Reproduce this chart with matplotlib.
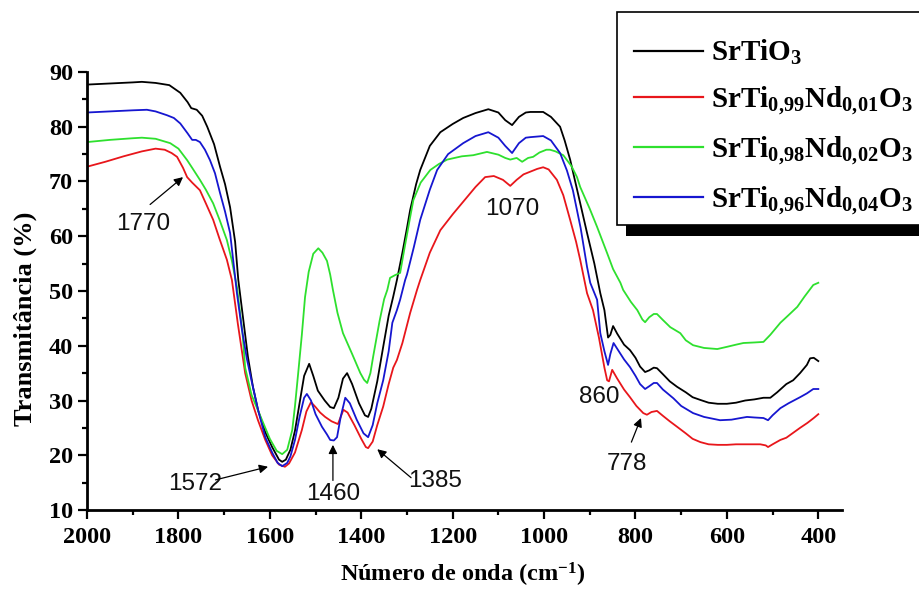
import matplotlib
matplotlib.use("Agg")
import matplotlib.pyplot as plt
from matplotlib.patches import Rectangle
import numpy as np

plt.rcParams['font.family'] = 'serif'
plt.rcParams['font.serif'] = ['Liberation Serif', 'DejaVu Serif']
plt.rcParams['font.weight'] = 'bold'
plt.rcParams['mathtext.fontset'] = 'custom'
plt.rcParams['mathtext.rm'] = 'Liberation Serif:bold'
plt.rcParams['mathtext.bf'] = 'Liberation Serif:bold'
plt.rcParams['mathtext.it'] = 'Liberation Serif:bold:italic'

# espectros (numero de onda, transmitancia)
wn_k = [2000, 1950, 1900, 1880, 1850, 1820, 1796, 1780, 1772, 1760, 1748, 1737, 1722, 1709,
        1698, 1687, 1676, 1669, 1660, 1648, 1637, 1626, 1610, 1595, 1580, 1573, 1565, 1555,
        1545, 1535, 1525, 1514, 1505, 1495, 1480, 1468, 1460, 1450, 1440, 1431, 1420, 1405,
        1392, 1385, 1378, 1365, 1352, 1340, 1330, 1322, 1310, 1300, 1293, 1280, 1271, 1250,
        1227, 1200, 1177, 1150, 1122, 1100, 1085, 1070, 1055, 1040, 1030, 1002, 985, 965,
        955, 943, 925, 906, 890, 877, 868, 860, 855, 849, 840, 825, 812, 800, 790, 779, 770,
        760, 753, 740, 725, 709, 690, 675, 658, 640, 620, 600, 580, 560, 540, 520, 505, 490,
        470, 455, 440, 425, 418, 410, 400]
t_k = [87.7, 87.9, 88.1, 88.2, 88.0, 87.6, 86.2, 84.5, 83.4, 83.1, 82.0, 80.0, 76.8, 72.7,
       69.5, 65.3, 59.0, 52.0, 46.0, 38.0, 32.5, 28.3, 24.2, 21.5, 19.2, 18.8, 19.2, 21.0,
       24.5, 29.5, 34.5, 36.7, 34.5, 31.8, 30.0, 28.8, 28.6, 30.5, 34.0, 35.0, 33.0, 29.5,
       27.3, 27.0, 28.5, 33.5, 39.8, 45.5, 49.0, 52.0, 57.0, 61.5, 64.8, 69.5, 72.1, 76.5,
       79.0, 80.5, 81.6, 82.5, 83.2, 82.6, 81.2, 80.3, 81.8, 82.6, 82.7, 82.7, 81.8, 80.0,
       77.5, 74.0, 67.5, 60.6, 55.0, 49.6, 46.5, 41.5, 42.0, 43.6, 42.2, 40.2, 39.2, 37.8,
       36.2, 35.2, 35.5, 36.0, 35.9, 34.8, 33.5, 32.5, 31.5, 30.6, 30.1, 29.6, 29.4, 29.4,
       29.6, 30.0, 30.2, 30.5, 30.5, 31.5, 33.0, 33.7, 35.0, 36.5, 37.7, 37.8, 37.2]

wn_r = [2000, 1960, 1920, 1880, 1850, 1830, 1815, 1803, 1790, 1781, 1770, 1753, 1740, 1724,
        1710, 1694, 1683, 1670, 1654, 1640, 1626, 1610, 1595, 1580, 1567, 1558, 1545, 1530,
        1520, 1510, 1500, 1490, 1479, 1465, 1451, 1445, 1439, 1430, 1415, 1400, 1390, 1385,
        1375, 1365, 1352, 1340, 1330, 1322, 1310, 1293, 1278, 1271, 1250, 1227, 1200, 1177,
        1150, 1129, 1110, 1090, 1074, 1060, 1045, 1030, 1015, 1002, 990, 972, 958, 943, 930,
        921, 906, 893, 880, 868, 862, 858, 851, 840, 825, 812, 798, 783, 775, 765, 753, 740,
        725, 709, 690, 675, 658, 640, 620, 600, 580, 560, 540, 527, 515, 510, 500, 483, 470,
        455, 440, 424, 410, 400]
t_r = [72.7, 73.6, 74.6, 75.5, 76.0, 75.8, 75.2, 74.5, 72.5, 70.8, 69.8, 68.4, 66.0, 63.0,
       59.5, 55.7, 52.0, 44.0, 35.0, 30.0, 26.4, 22.8, 20.0, 18.3, 17.9, 18.5, 20.5, 24.6,
       28.0, 29.7, 28.8, 27.8, 27.0, 26.2, 25.7, 27.0, 28.3, 27.8, 25.5, 23.0, 21.5, 21.3,
       22.5, 25.5, 28.9, 33.0, 36.0, 37.4, 40.5, 46.0, 50.2, 52.0, 57.0, 61.1, 64.0, 66.3,
       69.0, 70.8, 71.0, 70.3, 69.2, 70.3, 71.3, 71.8, 72.3, 72.6, 72.2, 70.3, 67.5, 63.0,
       59.0, 55.7, 49.6, 46.5, 41.5, 36.0, 33.7, 33.5, 35.6, 34.0, 32.0, 30.6, 29.0, 27.7,
       27.4, 27.9, 28.1, 27.2, 26.2, 25.2, 24.0, 23.0, 22.4, 22.0, 21.9, 21.9, 22.0, 22.0,
       22.0, 22.0, 21.8, 21.5, 22.0, 22.8, 23.2, 24.1, 25.0, 25.9, 26.8, 27.5]

wn_g = [2000, 1950, 1900, 1880, 1850, 1818, 1800, 1781, 1770, 1753, 1740, 1724, 1710, 1694,
        1683, 1672, 1660, 1654, 1640, 1617, 1600, 1585, 1573, 1562, 1551, 1545, 1538, 1530,
        1523, 1515, 1505, 1494, 1485, 1475, 1468, 1462, 1452, 1440, 1420, 1402, 1394, 1387,
        1380, 1374, 1360, 1350, 1343, 1337, 1326, 1315, 1305, 1293, 1286, 1270, 1249, 1230,
        1212, 1180, 1155, 1125, 1100, 1085, 1074, 1060, 1048, 1035, 1024, 1010, 995, 987, 975,
        958, 940, 928, 921, 900, 884, 862, 849, 833, 827, 810, 796, 785, 779, 770, 760, 753,
        740, 724, 702, 690, 674, 650, 621, 600, 580, 564, 540, 520, 505, 483, 465, 446, 430,
        411, 400]
t_g = [77.2, 77.6, 77.9, 78.0, 77.8, 77.0, 76.0, 73.9, 72.5, 70.3, 68.5, 66.0, 63.0, 59.3,
       55.5, 50.7, 42.5, 36.0, 31.0, 26.4, 23.0, 20.8, 20.2, 21.0, 24.6, 29.0, 35.0, 42.0,
       48.9, 53.5, 56.8, 57.8, 57.0, 55.5, 53.0, 50.2, 46.0, 42.3, 38.5, 35.0, 33.8, 33.2,
       35.0, 38.0, 44.5, 48.5, 50.2, 52.4, 52.9, 53.3, 58.0, 63.5, 66.6, 69.8, 72.1, 73.2,
       74.0, 74.6, 74.8, 75.4, 74.9, 74.3, 74.0, 74.3, 73.6, 74.3, 74.5, 75.3, 75.8, 75.8,
       75.5, 74.8, 72.8, 70.8, 69.0, 65.0, 61.7, 56.9, 54.0, 51.5, 50.2, 48.0, 46.5, 44.8,
       44.3, 45.2, 45.8, 45.8, 44.7, 43.4, 42.3, 41.0, 40.1, 39.6, 39.4, 39.8, 40.2, 40.5,
       40.6, 40.7, 42.0, 44.2, 45.6, 47.1, 49.0, 51.1, 51.5]

wn_b = [2000, 1950, 1900, 1869, 1850, 1825, 1810, 1796, 1780, 1770, 1762, 1753, 1742, 1731,
        1720, 1709, 1698, 1687, 1672, 1661, 1650, 1639, 1625, 1610, 1595, 1583, 1573, 1562,
        1555, 1545, 1535, 1525, 1519, 1510, 1500, 1486, 1475, 1468, 1460, 1453, 1445, 1435,
        1425, 1410, 1395, 1385, 1375, 1365, 1352, 1340, 1332, 1322, 1315, 1304, 1300, 1285,
        1271, 1250, 1234, 1210, 1177, 1150, 1122, 1100, 1085, 1070, 1055, 1040, 1030, 1002,
        985, 965, 950, 937, 920, 906, 899, 884, 877, 868, 860, 855, 848, 835, 825, 812, 800,
        790, 779, 770, 760, 753, 740, 717, 700, 674, 650, 615, 590, 570, 556, 540, 520, 510,
        500, 483, 465, 440, 425, 411, 400]
t_b = [82.6, 82.8, 83.0, 83.1, 82.8, 82.1, 81.6, 80.6, 78.8, 77.6, 77.6, 77.2, 75.8, 73.9,
       71.5, 67.9, 64.5, 60.6, 49.6, 42.9, 37.5, 33.2, 28.0, 23.3, 20.5, 18.6, 18.0, 18.6,
       19.8, 22.8, 27.0, 30.5, 31.2, 30.0, 27.5, 25.2, 23.8, 22.8, 22.7, 23.3, 27.0, 30.5,
       29.5, 26.5, 24.0, 23.3, 25.5, 29.5, 33.7, 39.0, 44.2, 46.5, 48.4, 52.0, 53.0, 58.0,
       63.0, 68.5, 72.1, 75.0, 77.0, 78.3, 79.0, 78.0, 76.5, 75.2, 77.0, 78.0, 78.1, 78.3,
       77.5, 75.2, 72.0, 68.4, 61.5, 54.4, 51.5, 48.4, 42.3, 39.0, 36.5, 38.5, 40.5, 38.8,
       37.5, 36.1, 34.5, 33.0, 32.1, 32.6, 33.2, 33.2, 32.0, 30.4, 29.0, 27.7, 27.0, 26.4,
       26.5, 26.8, 27.0, 26.9, 26.8, 26.4, 27.3, 28.6, 29.5, 30.6, 31.3, 32.1, 32.1]

labels = [r'$\mathbf{SrTiO_3}$',
          r'$\mathbf{SrTi_{0{,}99}Nd_{0{,}01}O_3}$',
          r'$\mathbf{SrTi_{0{,}98}Nd_{0{,}02}O_3}$',
          r'$\mathbf{SrTi_{0{,}96}Nd_{0{,}04}O_3}$']
cores = ['#000000', '#e8161b', '#2ee02e', '#1616d0']

# picos marcados: (texto, posicao do texto, ponta da seta ou None, cauda da seta)
picos = [('1770', (1877, 62.2), (1790, 70.8), (1862, 65.8)),
         ('1070', (1070, 65.0), None, None),
         ('1572', (1764, 14.8), (1604, 17.9), (1719, 15.5)),
         ('1460', (1462, 12.9), (1462, 21.9), (1462, 15.4)),
         ('1385', (1238, 15.3), (1365, 21.1), (1291, 15.9)),
         ('860', (880, 30.6), None, None),
         ('778', (818, 18.4), (788, 26.8), (809, 22.4))]

fig = plt.figure(figsize=(9.19, 5.92), dpi=100)
ax = fig.add_axes([0.0947, 0.1385, 0.8216, 0.7399])

linhas = []
for wn, t, cor in zip([wn_k, wn_r, wn_g, wn_b], [t_k, t_r, t_g, t_b], cores):
    l, = ax.plot(wn, t, color=cor, lw=1.3)
    linhas.append(l)

ax.set_xlim(2000, 348)
ax.set_ylim(10, 90)
ax.set_xticks(np.arange(2000, 399, -200))
ax.set_xticks(np.arange(1900, 399, -200), minor=True)
ax.set_yticks(np.arange(10, 91, 10))
ax.set_yticks(np.arange(15, 90, 10), minor=True)
ax.spines['top'].set_visible(False)
ax.spines['right'].set_visible(False)
ax.spines['left'].set_linewidth(2)
ax.spines['bottom'].set_linewidth(2)
ax.tick_params(which='major', direction='out', length=6.5, width=1.6, labelsize=17.5)
ax.tick_params(which='minor', direction='out', length=3.5, width=1.6)
ax.tick_params(axis='x', pad=6)
ax.tick_params(axis='y', pad=3.5)

ax.set_xlabel(r'Número de onda (cm$^{\mathbf{-1}}$)', fontsize=17.5, fontweight='bold')
ax.set_ylabel('Transmitância (%)', fontsize=19, fontweight='bold')
ax.xaxis.set_label_coords(0.498, -0.115)
ax.yaxis.set_label_coords(-0.066, 0.436)

for txt, pos, tip, tail in picos:
    ax.text(pos[0], pos[1], txt, ha='center', va='center', fontsize=17.5,
            family='Liberation Sans', fontweight='normal', color='#111111')
    if tip is not None:
        ax.annotate('', xy=tip, xytext=tail,
                    arrowprops=dict(arrowstyle='-|>', color='k', lw=0.9,
                                    mutation_scale=13, shrinkA=0, shrinkB=0))

# caixa da legenda com sombra
fig.add_artist(Rectangle((626 / 919, 1 - 236 / 592), 0.4, 211 / 592,
                         transform=fig.transFigure, facecolor='black',
                         edgecolor='none', zorder=3))
fig.add_artist(Rectangle((617 / 919, 1 - 225 / 592), 0.4, 213 / 592,
                         transform=fig.transFigure, facecolor='white',
                         edgecolor='black', lw=1.2, zorder=4))
leg = fig.legend(linhas, labels, loc='upper left', bbox_to_anchor=(634 / 919, 1 - 38 / 592),
                 frameon=False, fontsize=21, handlelength=2.35, handletextpad=0.3,
                 labelspacing=0.6, borderpad=0, borderaxespad=0)
leg.set_zorder(5)
for h in leg.get_lines():
    h.set_linewidth(1.6)

fig.savefig('out.png', dpi=100)
